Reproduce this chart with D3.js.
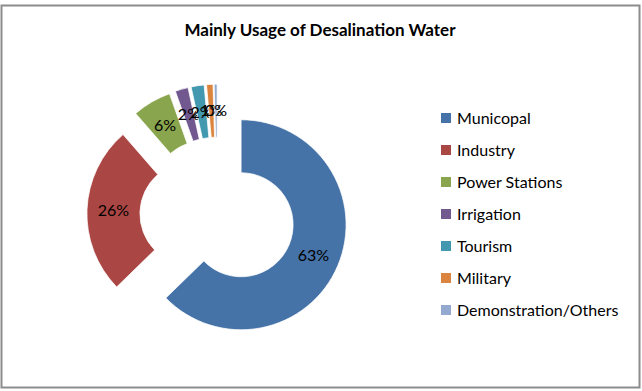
<!DOCTYPE html>
<html>
<head>
<meta charset="utf-8">
<script src="https://cdn.jsdelivr.net/npm/d3@7"></script>
<style>
  html, body { margin: 0; padding: 0; background: #fff; }
  svg { display: block; }
  text { font-family: Lato, "Liberation Sans", Arial, sans-serif; fill: #000; }
</style>
</head>
<body>
<svg id="chart" width="642" height="391"></svg>
<script>
const title = "Mainly Usage of Desalination Water";
const categories = ["Municopal", "Industry", "Power Stations", "Irrigation", "Tourism", "Military", "Demonstration/Others"];
const values = [63, 26, 6, 2, 2, 1, 0.45];
const colors = ["#4572A7", "#AA4643", "#89A54E", "#71588F", "#4198AF", "#DB843D", "#93A9CF"];

const svg = d3.select("#chart");

// frame
svg.append("rect")
  .attr("x", 1.5).attr("y", 5.5).attr("width", 638).attr("height", 382)
  .attr("fill", "#fff").attr("stroke", "#8c8c8c").attr("stroke-width", 2);

// title
svg.append("text")
  .attr("x", 320).attr("y", 36)
  .attr("text-anchor", "middle")
  .style("font-size", "17px").style("font-weight", "bold")
  .text(title);

const total = d3.sum(values);
const cx = 217.5, cy = 214.8;
const outerR = 105, innerR = 52, explode = 25.6;

const pie = d3.pie().sort(null).value(d => d).startAngle(0).endAngle(2 * Math.PI);
const arcs = pie(values);
const arc = d3.arc().innerRadius(innerR).outerRadius(outerR);

const g = svg.append("g").attr("transform", `translate(${cx},${cy})`);

const slices = g.selectAll("g.slice").data(arcs).enter().append("g")
  .attr("class", "slice")
  .attr("transform", d => {
    const m = (d.startAngle + d.endAngle) / 2;
    return `translate(${Math.sin(m) * explode},${-Math.cos(m) * explode})`;
  });

slices.append("path")
  .attr("d", arc)
  .attr("fill", (d, i) => colors[i])
  .attr("stroke", "#fff").attr("stroke-width", 0.75);

slices.append("text")
  .attr("transform", d => `translate(${arc.centroid(d)})`)
  .attr("text-anchor", "middle")
  .attr("dy", "0.35em")
  .style("font-size", "16px")
  .text(d => Math.round(d.value / total * 100) + "%");

// legend
const legend = svg.append("g").attr("transform", "translate(441,118)");
const items = legend.selectAll("g").data(categories).enter().append("g")
  .attr("transform", (d, i) => `translate(0,${i * 32})`);
items.append("rect")
  .attr("x", 0).attr("y", -5).attr("width", 10).attr("height", 10)
  .attr("fill", (d, i) => colors[i]);
items.append("text")
  .attr("x", 16).attr("dy", "0.35em")
  .style("font-size", "16px")
  .text(d => d);
</script>
</body>
</html>
